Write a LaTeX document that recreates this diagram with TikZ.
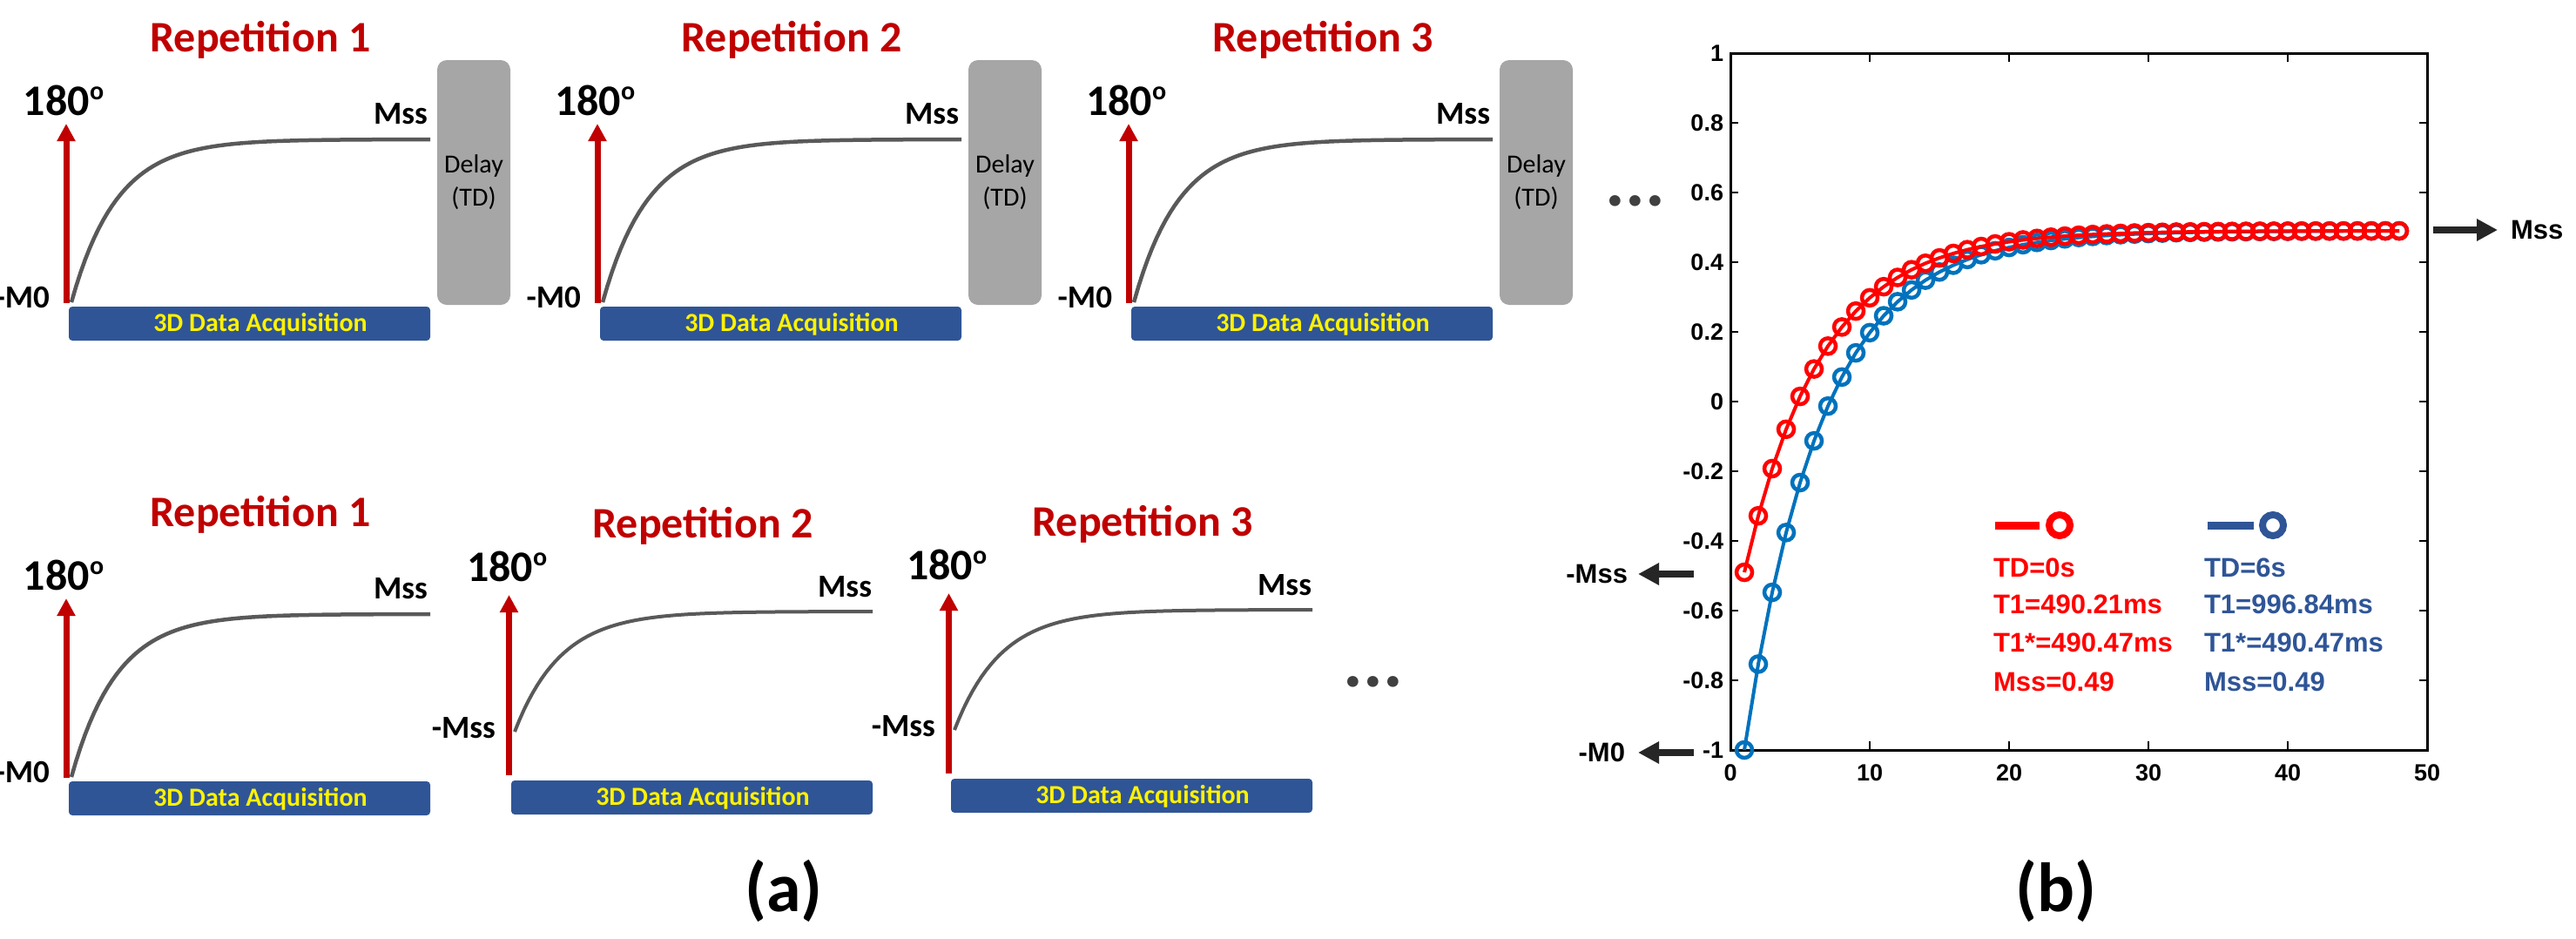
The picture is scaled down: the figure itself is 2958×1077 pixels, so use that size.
\documentclass[tikz,border=0pt]{standalone}
\usepackage{fontspec}
\setmainfont{Carlito}
\newfontfamily\helv{Liberation Sans}
\usetikzlibrary{arrows.meta}
\definecolor{repred}{HTML}{C00000}
\definecolor{barblue}{HTML}{2F5597}
\definecolor{curvegray}{HTML}{595959}
\definecolor{delaygray}{HTML}{A6A6A6}
\definecolor{mblue}{HTML}{0072BD}
\definecolor{mred}{HTML}{FF0000}
\definecolor{legblue}{HTML}{2F5597}
\definecolor{dotgray}{HTML}{404040}
\definecolor{arrowblack}{HTML}{262626}
\begin{document}
\begin{tikzpicture}[x=1pt,y=-1pt,
  every node/.style={inner sep=0pt,outer sep=0pt},
  reptitle/.style={font=\bfseries\fontsize{50}{60}\selectfont,text=repred,anchor=base},
  deglbl/.style={font=\bfseries\fontsize{50}{60}\selectfont,anchor=base west},
  msslbl/.style={font=\bfseries\fontsize{37}{44}\selectfont,anchor=base east},
  pulse/.style={draw=repred,line width=7pt,-{Triangle[length=20pt,width=20pt]}},
  relaxcurve/.style={draw=curvegray,line width=4.5pt},
  acqbar/.style={fill=barblue,rounded corners=4pt},
  acqtext/.style={font=\bfseries\fontsize{30}{36}\selectfont,text=yellow,anchor=base},
  delaybox/.style={fill=delaygray,rounded corners=11pt,minimum width=84pt,minimum height=281pt,align=center,font=\fontsize{30}{38}\selectfont},
  dotstext/.style={font=\bfseries\fontsize{85}{85}\selectfont,text=dotgray,anchor=base},
  axtick/.style={line width=2.5pt},
  ticklbl/.style={font=\helv\bfseries\fontsize{27}{32}\selectfont},
  legtext/.style={font=\helv\bfseries\fontsize{31}{36}\selectfont,anchor=base west},
  sidelbl/.style={font=\helv\bfseries\fontsize{31}{36}\selectfont},
  sidearrow/.style={draw=arrowblack,line width=8pt,-{Triangle[length=24pt,width=24pt]}},
  panellbl/.style={font=\bfseries\fontsize{80}{90}\selectfont},
  seriesline/.style={line width=4pt},
  seriesmark/.style={line width=4.5pt}
]
\useasboundingbox (0,0) rectangle (2958,1077);
\clip (0,0) rectangle (2958,1077);
\fill[white] (0,0) rectangle (2958,1077);

% ---------- top row ----------
\foreach \i/\dx in {1/0,2/610,3/1220}{
 \begin{scope}[shift={(\dx,0)}]
  \node[reptitle] (rt\i) at (299,59) {Repetition \i};
  \node[deglbl] (deg\i) at (27,132) {180\raisebox{18pt}{\fontsize{30}{30}\selectfont o}};
  \node[msslbl] (mss\i) at (491,142) {Mss};
  \node[msslbl] (mz\i) at (57,353) {-M0};
  \coordinate (pb\i) at (76,348);
  \coordinate (pt\i) at (76,142);
  \draw[relaxcurve] plot[domain=0:412,samples=80] ({82+\x},{160+187*exp(-\x/52)});
  \draw[pulse] (pb\i) -- (pt\i);
  \fill[acqbar] (79,352) rectangle (494,391);
  \node[acqtext] (acq\i) at (299,380) {3D Data Acquisition};
  \node[delaybox] (delay\i) at (544,209.5) {Delay\\(TD)};
 \end{scope}
}
\node[dotstext] (dotsTop) at (1878,236) {...};

% ---------- bottom row ----------
\begin{scope}[shift={(0,545)}]
  \node[reptitle] (brt1) at (299,59) {Repetition 1};
  \node[deglbl] (bdeg1) at (27,132) {180\raisebox{18pt}{\fontsize{30}{30}\selectfont o}};
  \node[msslbl] (bmss1) at (491,142) {Mss};
  \node[msslbl] (bmz1) at (57,353) {-M0};
  \coordinate (bpb1) at (76,348);
  \coordinate (bpt1) at (76,142);
  \draw[relaxcurve] plot[domain=0:412,samples=80] ({82+\x},{160+187*exp(-\x/52)});
  \draw[pulse] (bpb1) -- (bpt1);
  \fill[acqbar] (79,352) rectangle (494,391);
  \node[acqtext] (bacq1) at (299,380) {3D Data Acquisition};
\end{scope}

\foreach \i/\dx/\dy in {2/0/0,3/505/-2}{
 \begin{scope}[shift={(\dx,\dy)}]
  \node[reptitle] (brt\i) at (807,617) {Repetition \i};
  \node[deglbl] (bdeg\i) at (536,667) {180\raisebox{18pt}{\fontsize{30}{30}\selectfont o}};
  \node[msslbl] (bmss\i) at (1001,685) {Mss};
  \node[msslbl] (bmm\i) at (569,847) {-Mss};
  \coordinate (bpb\i) at (584.5,890);
  \coordinate (bpt\i) at (584.5,683);
  \draw[relaxcurve,line width=4pt] plot[domain=0:411,samples=80] ({591+\x},{702+138*exp(-\x/53)});
  \draw[pulse] (bpb\i) -- (bpt\i);
  \fill[acqbar] (587,896) rectangle (1002,935);
  \node[acqtext] (bacq\i) at (807,924) {3D Data Acquisition};
 \end{scope}
}
\node[dotstext] (dotsBot) at (1577,788) {...};

% ---------- plot (b) ----------
\draw[line width=3pt] (1987,61) rectangle (2787,861);
\foreach \v in {1,2,3,4}{
  \draw[axtick] (1987+160*\v,861) -- ++(0,-10);
  \draw[axtick] (1987+160*\v,61) -- ++(0,10);
}
\foreach \k in {1,...,9}{
  \draw[axtick] (1987,61+80*\k) -- ++(9,0);
  \draw[axtick] (2787,61+80*\k) -- ++(-9,0);
}
\foreach \k/\lab in {0/1,1/0.8,2/0.6,3/0.4,4/0.2,5/0,6/-0.2,7/-0.4,8/-0.6,9/-0.8,10/-1}{
  \node[ticklbl,anchor=east] (yl\k) at (1979,61+80*\k) {\lab};
}
\foreach \k/\lab in {0/0,1/10,2/20,3/30,4/40,5/50}{
  \node[ticklbl,anchor=north] (xl\k) at (1987+160*\k,878) {\lab};
}
% blue series (TD = 6 s)
\draw[mblue,seriesline] plot[domain=1:48,samples=48]
  ({1987+16*\x},{461-400*(0.49-1.49*exp(-0.181*(\x-1)))});
\foreach \n in {1,...,48}{
  \draw[mblue,seriesmark] ({1987+16*\n},{461-400*(0.49-1.49*exp(-0.181*(\n-1)))}) circle[radius=9pt];
}
% red series (TD = 0 s)
\draw[mred,seriesline] plot[domain=1:48,samples=48]
  ({1987+16*\x},{461-400*(0.49-0.98*exp(-0.181*(\x-1)))});
\foreach \n in {1,...,48}{
  \draw[mred,seriesmark] ({1987+16*\n},{461-400*(0.49-0.98*exp(-0.181*(\n-1)))}) circle[radius=9pt];
}

% legend
\draw[mred,line width=9pt] (2291,603) -- (2342,603);
\draw[mred,line width=8pt] (2365,603) circle[radius=12pt];
\draw[legblue,line width=9pt] (2535,603) -- (2588,603);
\draw[legblue,line width=8pt] (2610,603) circle[radius=12pt];
\node[legtext,text=mred] (lr1) at (2289,662) {TD=0s};
\node[legtext,text=mred] (lr2) at (2289,704) {T1=490.21ms};
\node[legtext,text=mred] (lr3) at (2289,748) {T1*=490.47ms};
\node[legtext,text=mred] (lr4) at (2289,793) {Mss=0.49};
\node[legtext,text=legblue] (lb1) at (2531,662) {TD=6s};
\node[legtext,text=legblue] (lb2) at (2531,704) {T1=996.84ms};
\node[legtext,text=legblue] (lb3) at (2531,748) {T1*=490.47ms};
\node[legtext,text=legblue] (lb4) at (2531,793) {Mss=0.49};

% side arrows
\node[sidelbl,anchor=west] (mssR) at (2883,264) {Mss};
\coordinate (mssA) at (2794,264);
\draw[sidearrow,shorten >=15pt] (mssA) -- (mssR.west);
\node[sidelbl,anchor=east] (mmL) at (1869,659) {-Mss};
\coordinate (mmA) at (1945,659);
\draw[sidearrow,shorten >=12pt] (mmA) -- (mmL.east);
\node[sidelbl,anchor=east] (mzL) at (1866,864) {-M0};
\coordinate (mzA) at (1945,864);
\draw[sidearrow,shorten >=15pt] (mzA) -- (mzL.east);

% panel labels
\node[panellbl] (pa) at (900,1023) {(a)};
\node[panellbl] (pbb) at (2361,1023) {(b)};
\end{tikzpicture}
\end{document}
